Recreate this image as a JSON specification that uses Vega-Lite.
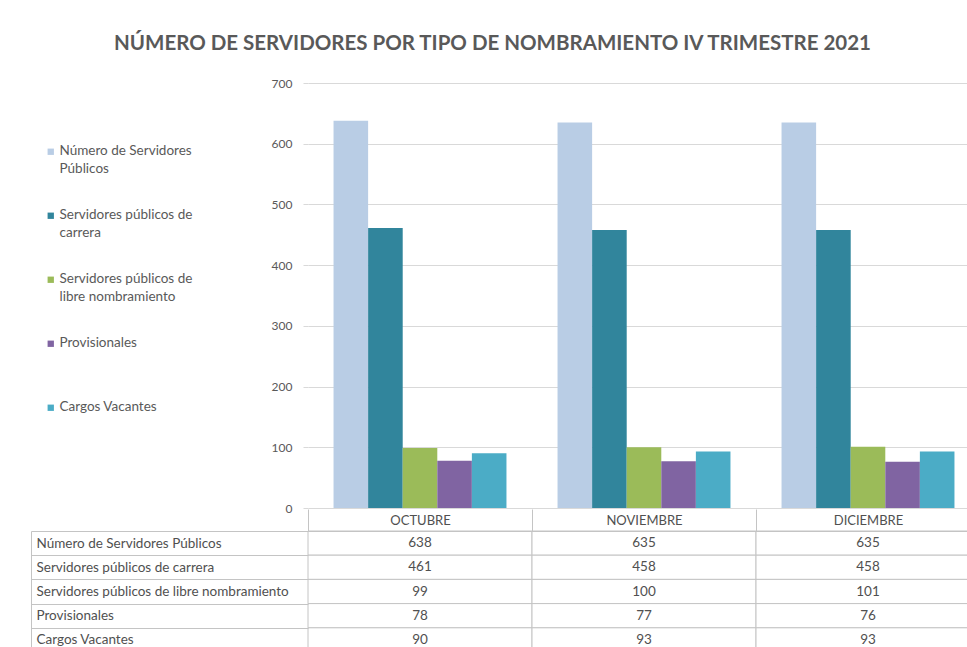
{
  "$schema": "https://vega.github.io/schema/vega-lite/v6.json",
  "background": "white",
  "padding": {"left": 30, "right": -12, "top": 33, "bottom": -4},
  "title": {
    "text": "NÚMERO DE SERVIDORES POR TIPO DE NOMBRAMIENTO IV TRIMESTRE 2021",
    "font": "Lato", "fontSize": 20.5, "fontWeight": "bold", "color": "#595959",
    "anchor": "middle", "offset": 23, "dx": -13
  },
  "datasets": {
    "d": [
      {"mes": "OCTUBRE", "serie": "Número de Servidores Públicos", "valor": 638},
      {"mes": "OCTUBRE", "serie": "Servidores públicos de carrera", "valor": 461},
      {"mes": "OCTUBRE", "serie": "Servidores públicos de libre nombramiento", "valor": 99},
      {"mes": "OCTUBRE", "serie": "Provisionales", "valor": 78},
      {"mes": "OCTUBRE", "serie": "Cargos Vacantes", "valor": 90},
      {"mes": "NOVIEMBRE", "serie": "Número de Servidores Públicos", "valor": 635},
      {"mes": "NOVIEMBRE", "serie": "Servidores públicos de carrera", "valor": 458},
      {"mes": "NOVIEMBRE", "serie": "Servidores públicos de libre nombramiento", "valor": 100},
      {"mes": "NOVIEMBRE", "serie": "Provisionales", "valor": 77},
      {"mes": "NOVIEMBRE", "serie": "Cargos Vacantes", "valor": 93},
      {"mes": "DICIEMBRE", "serie": "Número de Servidores Públicos", "valor": 635},
      {"mes": "DICIEMBRE", "serie": "Servidores públicos de carrera", "valor": 458},
      {"mes": "DICIEMBRE", "serie": "Servidores públicos de libre nombramiento", "valor": 101},
      {"mes": "DICIEMBRE", "serie": "Provisionales", "valor": 76},
      {"mes": "DICIEMBRE", "serie": "Cargos Vacantes", "valor": 93}
    ]
  },
  "spacing": -6,
  "resolve": {"scale": {"x": "independent", "y": "independent"}},
  "vconcat": [
    {
      "width": 672,
      "height": 425,
      "data": {"name": "d"},
      "mark": {"type": "bar"},
      "encoding": {
        "x": {
          "field": "mes", "type": "nominal",
          "sort": ["OCTUBRE", "NOVIEMBRE", "DICIEMBRE"],
          "scale": {"paddingInner": 0.228, "paddingOuter": 0.114},
          "axis": null
        },
        "xOffset": {
          "field": "serie", "type": "nominal",
          "sort": ["Número de Servidores Públicos", "Servidores públicos de carrera", "Servidores públicos de libre nombramiento", "Provisionales", "Cargos Vacantes"],
          "scale": {"paddingInner": 0, "paddingOuter": 0}
        },
        "y": {
          "field": "valor", "type": "quantitative",
          "scale": {"domain": [0, 700], "nice": false},
          "axis": {
            "values": [0, 100, 200, 300, 400, 500, 600, 700],
            "title": null, "grid": true, "gridColor": "#d9d9d9", "domain": false,
            "tickColor": "#d9d9d9", "tickSize": 5, "labelPadding": 11,
            "labelColor": "#595959", "labelFontSize": 12, "labelFont": "Lato"
          }
        },
        "color": {
          "field": "serie", "type": "nominal",
          "scale": {
            "domain": ["Número de Servidores Públicos", "Servidores públicos de carrera", "Servidores públicos de libre nombramiento", "Provisionales", "Cargos Vacantes"],
            "range": ["#B9CDE5", "#31859C", "#9BBB59", "#8064A2", "#4BACC6"]
          },
          "legend": {
            "orient": "none", "legendX": -277, "legendY": 49, "padding": 13,
            "title": null, "symbolType": "square", "symbolSize": 40, "symbolStrokeWidth": 0,
            "labelFont": "Lato", "labelFontSize": 13.5, "labelColor": "#595959",
            "labelLimit": 260, "labelOffset": 2, "rowPadding": 31, "labelBaseline": "top",
            "labelExpr": "datum.label == 'Número de Servidores Públicos' ? ['Número de Servidores', 'Públicos'] : datum.label == 'Servidores públicos de carrera' ? ['Servidores públicos de', 'carrera'] : datum.label == 'Servidores públicos de libre nombramiento' ? ['Servidores públicos de', 'libre nombramiento'] : [datum.label, '']",
            "encode": {"labels": {"update": {"dy": {"value": -8}, "lineHeight": {"value": 18.5}}}}
          }
        }
      }
    },
    {
      "width": 672,
      "height": 121,
      "data": {"name": "d"},
      "encoding": {
        "x": {
          "field": "mes", "type": "nominal",
          "sort": ["OCTUBRE", "NOVIEMBRE", "DICIEMBRE"],
          "scale": {"paddingInner": 0, "paddingOuter": 0},
          "axis": {
            "orient": "top", "title": null, "tickBand": "extent", "tickSize": 22,
            "tickColor": "#c4c4c4", "domainColor": "#c4c4c4", "labelPadding": -11,
            "labelBaseline": "middle", "labelAngle": 0, "labelFont": "Lato",
            "labelFontSize": 13, "labelColor": "#505050"
          }
        },
        "y": {
          "field": "serie", "type": "nominal",
          "sort": ["Número de Servidores Públicos", "Servidores públicos de carrera", "Servidores públicos de libre nombramiento", "Provisionales", "Cargos Vacantes"],
          "scale": {"paddingInner": 0, "paddingOuter": 0},
          "axis": {
            "title": null, "offset": 277, "tickBand": "extent", "tickSize": -277,
            "tickColor": "#c4c4c4", "domainColor": "#c4c4c4", "labelAlign": "left",
            "labelPadding": 272, "labelFont": "Lato", "labelFontSize": 13.5,
            "labelColor": "#505050", "labelLimit": 300
          }
        }
      },
      "layer": [
        {"mark": {"type": "rect", "fill": "white", "stroke": "#c4c4c4", "strokeWidth": 1}},
        {
          "mark": {"type": "text", "font": "Lato", "fontSize": 13.5, "color": "#505050"},
          "encoding": {"text": {"field": "valor", "type": "quantitative"}}
        }
      ]
    }
  ],
  "config": {
    "view": {"stroke": null},
    "font": "Lato"
  }
}
